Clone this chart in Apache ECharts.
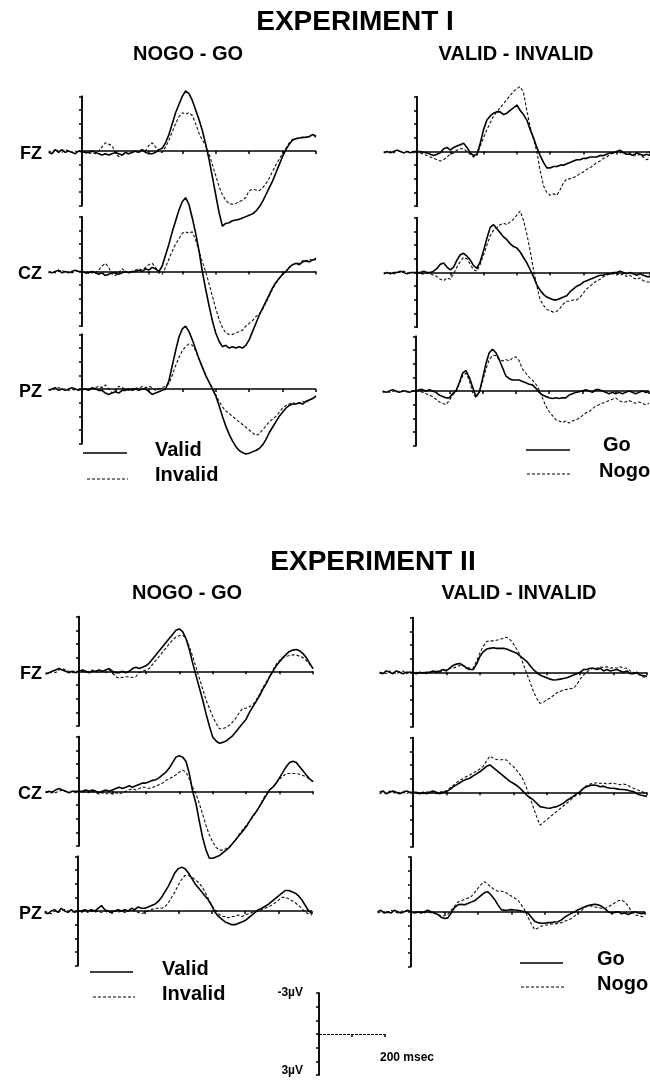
<!DOCTYPE html>
<html><head><meta charset="utf-8">
<script src="https://cdn.jsdelivr.net/npm/echarts@6/dist/echarts.min.js"></script>
<style>html,body{margin:0;padding:0;background:#fff}#c{width:650px;height:1081px}</style>
</head><body><div id="c"></div>
<script>
// sample times (ms)
const times = [-100,-90,-80,-70,-60,-50,-40,-30,-20,-10,0,
 10,20,30,40,50,60,70,80,90,100,
 110,120,130,140,150,160,170,180,190,200,
 210,220,230,240,250,260,270,280,290,300,
 310,320,330,340,350,360,370,380,390,400,
 410,420,430,440,450,460,470,480,490,500,
 510,520,530,540,550,560,570,580,590,600,
 610,620,630,640,650,660,670,680,690,700];
const xTicks = [100,200,300,400,500,600,700];
const yTicks = [-4,-3,-2,-1,0,1,2,3,4];
const scaleXTicks = [0,100,200];
const scaleYTicks = [-3,-2,-1,0,1,2,3];

// Experiment I, NOGO - GO (µV, negative up)
const e1ngFz_valid = [0.1,0.2,-0.1,0.1,-0.1,0.1,0,0.1,0.2,0,0.05,
 0.1,0.1,0,0.1,0.2,0.3,0.2,0.3,0.2,0.1,
 0.2,0.3,0.1,0.2,0.1,0,0.1,-0.1,0.1,0.2,
 0.2,0.1,-0.1,-0.2,-0.6,-1.2,-2.0,-2.8,-3.4,-4.0,
 -4.4,-4.2,-3.7,-3.0,-2.3,-1.5,-0.5,0.6,1.9,3.2,
 4.5,5.5,5.3,5.25,5.1,5.05,5.0,4.9,4.8,4.7,
 4.6,4.4,4.1,3.7,3.2,2.7,2.2,1.6,1.0,0.4,
 -0.1,-0.5,-0.8,-0.9,-0.95,-1.0,-1.0,-1.05,-1.2,-1.1];
const e1ngFz_invalid = [0,0.1,-0.1,0,0.1,-0.1,0,0.1,0,0.1,0,
 0.1,0.2,0.1,0.2,0,-0.3,-0.6,-0.5,-0.4,0.2,
 0.4,0.3,0.2,0.2,0.1,0.1,0,-0.1,0,-0.4,
 -0.6,-0.3,0.1,0.1,-0.3,-0.8,-1.4,-2.0,-2.5,-2.8,
 -2.7,-2.8,-2.6,-2.0,-1.3,-0.8,-0.4,0.2,1.0,1.8,
 2.6,3.2,3.6,3.85,3.9,3.85,3.7,3.6,3.4,2.9,
 2.8,2.85,2.9,2.7,2.4,2.0,1.5,1.0,0.6,0.2,
 -0.2,-0.6,-0.85,-0.9,-1.0,-0.95,-1.0,-1.1,-1.2,-1.0];
const e1ngCz_valid = [0,0.1,0,-0.1,0.1,0,0.1,0,-0.1,0,0,
 0.1,0.1,0,0.1,0.2,0.1,0.3,0.2,0.1,0.1,
 0.2,0.1,0,0.1,0,0,-0.1,0,-0.2,-0.1,
 -0.3,-0.2,0,-0.4,-1.2,-2.0,-2.9,-3.7,-4.5,-5.1,
 -5.4,-4.9,-3.9,-2.8,-1.5,0,1.3,2.5,3.6,4.5,
 5.1,5.5,5.4,5.6,5.5,5.6,5.5,5.6,5.4,5.0,
 4.4,3.8,3.2,2.7,2.2,1.7,1.2,0.8,0.5,0.2,
 0,-0.3,-0.5,-0.6,-0.5,-0.7,-0.8,-0.7,-0.85,-0.9];
const e1ngCz_invalid = [0.1,0,0.1,0,-0.1,0.1,0,0.1,0,0,0,
 0.1,0,0.1,0.1,-0.1,-0.4,-0.6,-0.3,0.2,0.3,
 0.1,-0.2,0,0.1,0,-0.1,-0.2,-0.1,-0.3,-0.5,
 -0.6,-0.3,0.1,0.2,-0.3,-0.9,-1.5,-2.0,-2.4,-2.8,
 -2.9,-2.8,-2.9,-2.3,-1.5,-0.7,0,0.9,1.8,2.7,
 3.5,4.1,4.5,4.6,4.6,4.5,4.4,4.3,4.0,3.8,
 3.6,3.3,3.1,2.8,2.3,1.8,1.3,0.9,0.5,0.2,
 0,-0.3,-0.5,-0.6,-0.6,-0.8,-0.7,-0.9,-0.8,-1.0];
const e1ngPz_valid = [0.1,0,-0.1,0.1,0,0.1,0,-0.1,0,0.1,0,
 0,0.1,-0.1,0,0.1,0.1,0.3,0.4,0.3,0.2,
 0.3,0.1,0.1,0,0.1,0,0.1,0,0,0.2,
 0.4,0.3,0.2,0.1,0,-0.6,-1.7,-2.8,-3.8,-4.4,
 -4.6,-4.2,-3.6,-2.9,-2.2,-1.6,-1.0,-0.5,0,0.5,
 1.2,2.0,2.7,3.3,3.8,4.2,4.5,4.65,4.75,4.7,
 4.6,4.5,4.35,4.1,3.7,3.2,2.8,2.4,2.0,1.7,
 1.4,1.2,1.1,1.1,1.0,1.1,0.9,0.8,0.7,0.5];
const e1ngPz_invalid = [0,0.1,0,-0.1,0,0,0.1,0,0.1,0,0,
 0.1,0,0,-0.1,-0.2,-0.1,-0.3,0,0.3,0.1,
 -0.2,-0.1,0,0.1,0,-0.1,0,-0.2,-0.1,-0.2,
 -0.1,0.1,0,-0.1,-0.2,-0.4,-1.0,-1.7,-2.3,-2.8,
 -3.1,-3.3,-3.2,-2.8,-2.2,-1.6,-1.0,-0.5,-0.1,0.4,
 0.9,1.3,1.6,1.8,2.0,2.2,2.4,2.6,2.8,3.0,
 3.2,3.4,3.3,3.0,2.7,2.4,2.2,2.0,1.7,1.4,
 1.2,1.1,1.0,1.1,1.0,0.9,1.0,0.8,0.7,0.6];

// Experiment I, VALID - INVALID
const e1viFz_go = [0.1,0,0.1,0,-0.1,0,0.1,0,0.1,0,0,
 0,0.05,0.1,0.2,0.3,0.2,0.1,-0.2,-0.3,-0.1,
 -0.3,-0.4,-0.5,-0.6,-0.3,0.1,0.3,0.2,-0.6,-1.6,
 -2.3,-2.6,-2.8,-2.9,-2.9,-2.7,-2.8,-3.0,-3.2,-3.4,
 -3.0,-2.7,-2.3,-1.6,-1.0,-0.3,0.3,0.8,1.2,1.2,
 1.1,1.1,1.0,1.0,0.9,0.8,0.7,0.6,0.6,0.5,
 0.5,0.4,0.4,0.4,0.3,0.3,0.2,0.1,0.1,0,
 -0.1,0.1,0.2,0.2,0.3,0.1,0.2,0.3,0.2,0.3];
const e1viFz_nogo = [0,0.1,0,0.1,-0.1,0,0.1,0,0,0.1,0,
 0.1,0.2,0.3,0.4,0.5,0.6,0.7,0.6,0.4,0.2,
 0.1,-0.1,-0.2,-0.2,0,0.2,0.4,0.3,-0.4,-1.0,
 -1.6,-2.1,-2.6,-2.9,-3.2,-3.5,-3.8,-4.1,-4.4,-4.6,
 -4.75,-4.3,-3.0,-1.8,-0.9,0,1.4,2.5,3.0,3.2,
 3.1,3.2,2.8,2.3,2.0,2.0,1.9,1.8,1.6,1.5,
 1.3,1.2,1.0,0.8,0.7,0.5,0.4,0.2,0.1,0.0,
 0.1,0,0.2,0.1,0.2,0.3,0.2,0.4,0.6,0.5];
const e1viCz_go = [0.1,0,0.1,0,0,-0.1,0,0.1,0,0,0,
 0,-0.1,0,0,-0.1,-0.3,-0.6,-0.7,-0.4,-0.2,
 -0.4,-0.9,-1.3,-1.4,-1.2,-0.9,-0.5,-0.3,-0.8,-1.6,
 -2.5,-3.3,-3.5,-3.2,-2.9,-2.6,-2.4,-2.1,-1.9,-1.8,
 -1.5,-1.1,-0.7,-0.2,0.3,0.9,1.3,1.6,1.8,1.9,
 2.0,2.0,1.9,1.8,1.7,1.4,1.2,1.0,0.9,0.7,
 0.6,0.5,0.4,0.3,0.2,0.2,0.1,0.1,0.0,0.0,
 -0.1,0,0.1,0,0.1,0.2,0.1,0.2,0.3,0.3];
const e1viCz_nogo = [0,0.1,0,0.1,0,0,-0.1,0,0.1,0,0,
 0.1,0.1,0,0.1,0.2,0.3,0.5,0.6,0.4,0.5,
 0.1,-0.4,-0.8,-1.1,-1.0,-0.6,-0.2,-0.1,-0.6,-1.3,
 -2.0,-2.7,-3.1,-3.3,-3.5,-3.6,-3.5,-3.7,-3.9,-4.2,
 -4.5,-3.8,-2.8,-1.6,-0.2,1.0,2.0,2.4,2.7,2.8,
 2.9,2.85,2.6,2.3,2.1,2.1,2.0,2.0,1.8,1.5,
 1.2,1.0,0.8,0.6,0.5,0.3,0.2,0.1,0.1,0.05,
 0.2,0.1,0.3,0.2,0.4,0.5,0.4,0.6,0.7,0.7];
const e1viPz_go = [0,0.1,0,-0.1,0,0.1,0,0,0.1,0,0,
 -0.1,-0.1,0,-0.1,0,0.1,0.3,0.4,0.5,0.5,
 0.2,0,-0.6,-1.3,-1.5,-1.0,-0.3,0.4,0.1,-0.9,
 -2.0,-2.8,-3.05,-2.8,-2.3,-1.7,-1.1,-0.9,-0.8,-0.8,
 -0.8,-0.7,-0.6,-0.5,-0.45,-0.2,0.1,0.3,0.4,0.5,
 0.55,0.5,0.55,0.5,0.5,0.3,0.2,0.1,0.05,0,
 -0.1,0,0.1,-0.1,-0.1,0,0.1,0.2,0.1,0.2,
 0.1,0.2,0.1,0,0.1,0.2,0.1,0,0.1,0.05];
const e1viPz_nogo = [0.1,0,0.1,0,0.1,0,0,0.1,0,0,0,
 0,0.1,0.2,0.3,0.4,0.6,0.8,0.9,1.0,0.7,
 0.3,0.05,-0.5,-1.1,-1.3,-0.8,0.1,0.5,0.1,-0.7,
 -1.6,-2.3,-2.6,-2.6,-2.3,-2.2,-2.3,-2.2,-2.4,-2.5,
 -2.2,-1.6,-1.3,-1.0,-0.8,-0.5,-0.1,0.5,1.1,1.5,
 1.8,2.1,2.2,2.3,2.2,2.35,2.2,2.1,2.0,1.8,
 1.6,1.5,1.3,1.1,1.0,0.9,0.8,0.7,0.6,0.5,
 0.7,0.8,0.8,0.7,0.8,0.9,0.8,0.9,1.0,0.9];

// Experiment II, NOGO - GO
const e2ngFz_valid = [0.2,0.1,0,-0.1,-0.2,-0.1,0,0.1,0,0.1,0,
 -0.1,0,0.1,0,0,-0.1,0,-0.1,-0.2,0,
 0.1,0.1,0,0.1,0,-0.2,-0.3,-0.2,-0.3,-0.4,
 -0.6,-0.9,-1.2,-1.5,-1.8,-2.1,-2.4,-2.7,-3.0,-3.1,
 -2.9,-2.4,-1.6,-0.6,0.3,1.2,2.1,3.1,4.0,4.8,
 5.1,5.27,5.2,5.1,4.9,4.7,4.4,4.1,3.8,3.5,
 3.0,2.6,2.2,1.8,1.3,0.9,0.4,0,-0.4,-0.7,
 -1.0,-1.25,-1.45,-1.55,-1.6,-1.5,-1.3,-1.0,-0.6,-0.2];
const e2ngFz_invalid = [0.1,0.2,0,0.1,-0.1,-0.2,-0.1,0,0.1,0,0,
 0,0.1,0,-0.1,0,0.1,0,0.1,-0.1,0.1,
 0.4,0.5,0.45,0.4,0.4,0.45,0.4,0.1,0,-0.1,
 -0.2,-0.5,-0.8,-1.1,-1.4,-1.7,-2.0,-2.3,-2.5,-2.6,
 -2.65,-2.4,-1.8,-1.1,-0.3,0.5,1.3,2.1,2.7,3.3,
 3.8,4.2,4.2,4.1,3.95,3.7,3.4,3.0,2.7,2.7,
 2.6,2.45,2.1,1.7,1.2,0.8,0.4,-0.1,-0.5,-0.8,
 -1.0,-1.1,-1.15,-1.2,-1.2,-1.1,-1.0,-0.8,-0.5,-0.2];
const e2ngCz_valid = [0.1,0,0.1,-0.1,-0.2,-0.1,0,0.1,0,0,0,
 0,-0.1,0,-0.1,0,0.1,0,-0.1,0,-0.1,
 -0.2,-0.3,-0.2,-0.3,-0.4,-0.3,-0.4,-0.5,-0.6,-0.6,
 -0.7,-0.8,-0.85,-1.0,-1.2,-1.4,-1.7,-2.1,-2.5,-2.6,
 -2.5,-2.2,-1.3,0,0.9,2.2,3.4,4.3,4.9,4.9,
 4.8,4.7,4.5,4.3,4.1,3.8,3.5,3.2,2.9,2.6,
 2.2,1.8,1.5,1.1,0.7,0.3,-0.1,-0.3,-0.6,-1.0,
 -1.4,-1.8,-2.1,-2.2,-2.1,-1.8,-1.5,-1.2,-0.9,-0.7];
const e2ngCz_invalid = [0,0.1,0,0.1,0,-0.1,0,0.1,0,0.1,0,
 0.1,0,0.1,0,0.1,0.2,0.1,0.2,0.1,0.2,
 0.1,0.2,0.1,0,-0.1,-0.2,-0.1,-0.2,-0.3,-0.3,
 -0.2,-0.3,-0.35,-0.5,-0.6,-0.8,-0.9,-1.05,-1.2,-1.4,
 -1.55,-1.4,-0.9,-0.3,0.2,0.9,1.7,2.5,3.2,3.7,
 4.1,4.3,4.3,4.2,4.05,3.8,3.5,3.1,2.8,2.5,
 2.2,1.9,1.5,1.1,0.6,0.2,-0.1,-0.3,-0.6,-0.9,
 -1.1,-1.3,-1.3,-1.3,-1.3,-1.25,-1.15,-1.05,-0.9,-0.7];
const e2ngPz_valid = [0.1,0.2,0,-0.1,0.1,-0.2,0,0.1,-0.1,0.1,0,
 0,-0.1,0,-0.1,0,-0.2,-0.4,-0.1,0,0.1,
 0,-0.1,0,-0.1,0,-0.2,-0.1,-0.3,-0.2,-0.2,
 -0.3,-0.4,-0.5,-0.7,-1.0,-1.4,-1.8,-2.3,-2.8,-3.1,
 -3.2,-3.1,-2.8,-2.4,-2.0,-1.7,-1.4,-1.1,-0.8,-0.4,
 0.1,0.4,0.6,0.8,0.9,1.0,1.0,0.9,0.8,0.7,
 0.5,0.3,0.1,-0.1,-0.2,-0.35,-0.5,-0.7,-0.9,-1.1,
 -1.3,-1.5,-1.5,-1.4,-1.3,-1.1,-0.8,-0.4,0,0.2];
const e2ngPz_invalid = [0,0.1,0.2,0,0.1,0,-0.1,0,0.1,0,0,
 0.1,0,0.1,0,0.1,0,0.1,0,0.1,0.1,
 0,0.1,0,0.1,0,-0.1,0,0.1,0.2,0.1,
 0,-0.1,-0.2,-0.2,-0.2,-0.3,-0.6,-1.0,-1.4,-1.9,
 -2.3,-2.6,-2.6,-2.5,-2.3,-2.1,-1.8,-1.4,-0.9,-0.4,
 -0.1,0.2,0.4,0.4,0.5,0.4,0.4,0.3,0.4,0.3,
 0.2,0.1,0.05,0,-0.1,-0.2,-0.3,-0.45,-0.6,-0.8,
 -1.0,-1.0,-0.9,-0.75,-0.6,-0.4,-0.2,0.1,0.2,0.3];

// Experiment II, VALID - INVALID
const e2viFz_go = [0,0.1,-0.1,0,0.1,-0.1,0,0.1,0,0,0,
 0.1,0,0.05,0,0,-0.1,0,-0.1,-0.2,-0.1,
 -0.3,-0.5,-0.6,-0.65,-0.5,-0.3,-0.2,-0.2,-0.6,-1.15,
 -1.5,-1.7,-1.75,-1.8,-1.75,-1.75,-1.75,-1.7,-1.6,-1.5,
 -1.4,-1.2,-1.0,-0.8,-0.5,-0.2,0,0.2,0.3,0.4,
 0.5,0.56,0.55,0.5,0.45,0.4,0.3,0.2,0.1,0,
 -0.2,-0.2,-0.3,-0.3,-0.2,-0.3,-0.1,-0.2,-0.1,-0.15,
 -0.2,-0.1,0,-0.1,0.1,0.1,0,0.2,0.25,0.3];
const e2viFz_nogo = [0.1,0,0.1,-0.1,0,0.1,0,-0.1,0.1,0,0,
 0,0.1,0,0.1,0,0,-0.1,0,-0.1,-0.2,
 -0.3,-0.3,-0.4,-0.5,-0.5,-0.4,-0.3,-0.3,-0.8,-1.4,
 -1.9,-2.25,-2.3,-2.3,-2.35,-2.4,-2.5,-2.56,-2.4,-2.1,
 -1.7,-1.27,-0.6,0.07,0.7,1.4,1.9,2.27,2.2,2.0,
 1.9,1.7,1.5,1.4,1.3,1.25,1.2,1.17,0.9,0.5,
 0.2,0,-0.2,-0.3,-0.3,-0.4,-0.35,-0.4,-0.3,-0.35,
 -0.3,-0.4,-0.3,-0.3,-0.1,0,0.1,0.2,0.35,0.44];
const e2viCz_go = [0,-0.1,0.1,0,-0.1,0,0.1,0,-0.1,0,0,
 0,0.1,0,0.1,0,-0.1,0,0.1,0,-0.05,
 -0.2,-0.4,-0.54,-0.7,-0.85,-0.95,-1.03,-1.2,-1.35,-1.5,
 -1.7,-1.9,-2.0,-1.8,-1.6,-1.4,-1.2,-1.0,-0.8,-0.66,
 -0.5,-0.3,-0.05,0.2,0.4,0.56,0.8,1.05,1.1,1.15,
 1.17,1.1,1.05,0.93,0.8,0.6,0.44,0.3,0.1,-0.05,
 -0.3,-0.4,-0.5,-0.54,-0.5,-0.4,-0.45,-0.35,-0.3,-0.3,
 -0.25,-0.2,-0.2,-0.17,-0.1,-0.05,0.1,0.2,0.25,0.3];
const e2viCz_nogo = [0.1,0,0.1,-0.1,0,0.1,0,0,0.1,0,0,
 0.1,0,0.1,0,-0.1,0,0.1,0,-0.1,-0.1,
 -0.3,-0.5,-0.7,-0.9,-1.0,-1.15,-1.27,-1.4,-1.55,-1.7,
 -1.9,-2.3,-2.65,-2.5,-2.4,-2.36,-2.4,-2.36,-2.1,-1.9,
 -1.6,-1.3,-0.9,-0.3,0.4,1.1,1.8,2.4,2.2,2.0,
 1.8,1.6,1.4,1.2,1.0,0.8,0.6,0.35,0.2,0,
 -0.3,-0.5,-0.6,-0.66,-0.7,-0.65,-0.7,-0.6,-0.65,-0.66,
 -0.6,-0.55,-0.6,-0.54,-0.4,-0.3,-0.2,-0.1,0,0.07];
const e2viPz_go = [0,-0.1,0.1,0,0.1,-0.1,0,0.1,0,-0.1,0,
 0.1,0,0.1,0,-0.1,0,0.1,0.2,0.4,0.5,
 0.45,0.1,-0.3,-0.5,-0.55,-0.5,-0.6,-0.7,-0.8,-1.0,
 -1.2,-1.4,-1.46,-1.2,-0.9,-0.5,-0.15,-0.1,-0.12,-0.15,
 -0.12,-0.1,-0.05,0,0.1,0.4,0.7,0.8,0.85,0.85,
 0.8,0.8,0.75,0.73,0.6,0.4,0.25,0.12,0,-0.15,
 -0.25,-0.37,-0.45,-0.5,-0.55,-0.5,-0.4,-0.2,0,0.1,
 0.05,0,0.15,0.1,0.2,0.1,0,0.1,0.15,0.1];
const e2viPz_nogo = [0.1,0,0,0.1,-0.1,0,0.1,0,-0.1,0,0,
 0,0.1,0,0.1,0,0.1,0.1,0.2,0.3,0.3,
 0.2,-0.1,-0.4,-0.7,-0.8,-0.9,-1.0,-1.1,-1.4,-1.7,
 -2.0,-2.2,-2.0,-1.8,-1.6,-1.5,-1.5,-1.46,-1.3,-1.15,
 -1.0,-0.85,-0.5,-0.12,0.4,0.9,1.3,1.2,1.05,1.0,
 0.95,0.9,0.9,0.85,0.8,0.7,0.6,0.5,0.3,0.1,
 -0.1,-0.3,-0.45,-0.4,-0.35,-0.3,-0.25,-0.24,-0.35,-0.5,
 -0.65,-0.8,-0.85,-0.7,-0.4,0,0.2,0.3,0.35,0.37];

const electrodes = ['FZ','CZ','PZ'];
const legendNames = { ng: ['Valid','Invalid'], vi: ['Go','Nogo'] };

// ---------- layout ----------
const PX = 13.67; // px per µV
// x0 = pixel of 0 ms, w = pixel width of 0..700 ms, zero = pixel of 0 µV
const layout = [
  {x0:82,  w:234, zero:151,   solid:e1ngFz_valid, dashed:e1ngFz_invalid, kind:'ng', label:0},
  {x0:82,  w:234, zero:271.5, solid:e1ngCz_valid, dashed:e1ngCz_invalid, kind:'ng', label:1},
  {x0:82,  w:234, zero:389,   solid:e1ngPz_valid, dashed:e1ngPz_invalid, kind:'ng', label:2},
  {x0:417, w:233, zero:151.5, solid:e1viFz_go, dashed:e1viFz_nogo, kind:'vi'},
  {x0:417, w:233, zero:272.5, solid:e1viCz_go, dashed:e1viCz_nogo, kind:'vi'},
  {x0:416, w:233, zero:391,   solid:e1viPz_go, dashed:e1viPz_nogo, kind:'vi'},
  {x0:79,  w:234, zero:671.3, solid:e2ngFz_valid, dashed:e2ngFz_invalid, kind:'ng', label:0},
  {x0:79,  w:234, zero:791.3, solid:e2ngCz_valid, dashed:e2ngCz_invalid, kind:'ng', label:1},
  {x0:78,  w:234, zero:911,   solid:e2ngPz_valid, dashed:e2ngPz_invalid, kind:'ng', label:2},
  {x0:413, w:234, zero:672.3, solid:e2viFz_go, dashed:e2viFz_nogo, kind:'vi'},
  {x0:413, w:234, zero:792.3, solid:e2viCz_go, dashed:e2viCz_nogo, kind:'vi'},
  {x0:411, w:234, zero:911.7, solid:e2viPz_go, dashed:e2viPz_nogo, kind:'vi'}
];

const AX = {color:'#000', width:1.5};
const FONT = '"Liberation Sans", Arial, Helvetica, sans-serif';
function xAx(g, inside, min, max, ticks) {
  return {gridIndex:g, type:'value', min:min, max:max, interval:100,
    axisLine:{show:false, onZero:true},
    axisTick:{show:true, inside:inside, length:3, lineStyle:AX, customValues:ticks},
    axisLabel:{show:false}, splitLine:{show:false}};
}
function yAx(g, inside, lim, ticks) {
  return {gridIndex:g, type:'value', min:-lim, max:lim, interval:1, inverse:true,
    axisLine:{show:true, onZero:true, lineStyle:AX},
    axisTick:{show:true, inside:inside, length:3, lineStyle:AX, customValues:ticks},
    axisLabel:{show:false}, splitLine:{show:false}};
}
function baseLine(x1, x2, style) {
  return {silent:true, symbol:'none', animation:false, label:{show:false},
    lineStyle:style, emphasis:{disabled:true},
    data:[[{coord:[x1,0]},{coord:[x2,0]}]]};
}

const grid = [], xAxis = [], yAxis = [], series = [], graphic = [];
layout.forEach((p, g) => {
  const pre = p.w / 7; // 100 ms before stimulus
  grid.push({left:p.x0 - pre, top:p.zero - 4*PX, width:p.w + pre, height:8*PX});
  xAxis.push(xAx(g, false, -100, 700, xTicks), xAx(g, true, -100, 700, xTicks));
  yAxis.push(yAx(g, false, 4, yTicks), yAx(g, true, 4, yTicks));
  const nm = legendNames[p.kind];
  series.push({type:'line', name:nm[1], xAxisIndex:2*g, yAxisIndex:2*g, clip:false,
    symbol:'none', showSymbol:false, animation:false,
    lineStyle:{color:'#111', width:1.1, type:[3,2]},
    data: times.map((t,i)=>[t, p.dashed[i]])});
  series.push({type:'line', name:nm[0], xAxisIndex:2*g, yAxisIndex:2*g, clip:false,
    symbol:'none', showSymbol:false, animation:false,
    lineStyle:{color:'#000', width:1.6, type:'solid'},
    markLine: baseLine(0, 700, {color:'#000', width:1.5, type:'solid'}),
    data: times.map((t,i)=>[t, p.solid[i]])});
  if (p.label !== undefined) {
    graphic.push({type:'text', style:{text:electrodes[p.label], x:42, y:p.zero+3,
      textAlign:'right', textVerticalAlign:'middle', fill:'#000',
      font:'bold 18px ' + FONT}});
  }
});

// scale bar: 3 µV, 200 ms
const sg = grid.length;
grid.push({left:319, top:993, width:66, height:6*PX});
xAxis.push(xAx(sg, false, 0, 200, scaleXTicks), xAx(sg, true, 0, 200, scaleXTicks));
yAxis.push(yAx(sg, false, 3, scaleYTicks), yAx(sg, true, 3, scaleYTicks));
series.push({type:'line', xAxisIndex:2*sg, yAxisIndex:2*sg, symbol:'none', animation:false,
  lineStyle:{opacity:0}, data:[],
  markLine: baseLine(0, 200, {color:'#000', width:1, type:[3,1]})});

function txt(text, x, y, size, align) {
  graphic.push({type:'text', style:{text:text, x:x, y:y, textAlign:align||'center',
    textVerticalAlign:'middle', fill:'#000', font:'bold ' + size + 'px ' + FONT}});
}
function leg(x1, x2, y, dashed) {
  graphic.push({type:'line', shape:{x1:x1, y1:y, x2:x2, y2:y},
    style:{stroke:'#000', lineWidth: dashed ? 1 : 1.5, lineDash: dashed ? [3,2] : null}});
}
txt('EXPERIMENT I', 355, 22, 28);
txt('NOGO - GO', 188, 54, 20);
txt('VALID - INVALID', 516, 54, 20);
txt('EXPERIMENT II', 373, 562, 28);
txt('NOGO - GO', 187, 593, 20);
txt('VALID - INVALID', 519, 593, 20);

leg(83, 127, 453, false); txt('Valid', 155, 450, 20, 'left');
leg(87, 128, 479, true);  txt('Invalid', 155, 475, 20, 'left');
leg(526, 570, 450, false); txt('Go', 603, 445, 20, 'left');
leg(527, 571, 474, true);  txt('Nogo', 599, 471, 20, 'left');
leg(90, 133, 972, false); txt('Valid', 162, 969, 20, 'left');
leg(93, 135, 997, true);  txt('Invalid', 162, 994, 20, 'left');
leg(520, 563, 963, false); txt('Go', 597, 959, 20, 'left');
leg(521, 564, 987, true);  txt('Nogo', 597, 984, 20, 'left');

txt('-3\u00B5V', 303, 993, 12, 'right');
txt('3\u00B5V', 303, 1071, 12, 'right');
txt('200 msec', 380, 1058, 12, 'left');

const chart = echarts.init(document.getElementById('c'), null, {renderer:'canvas'});
chart.setOption({animation:false, backgroundColor:'#fff', grid, xAxis, yAxis, series, graphic});
</script></body></html>
